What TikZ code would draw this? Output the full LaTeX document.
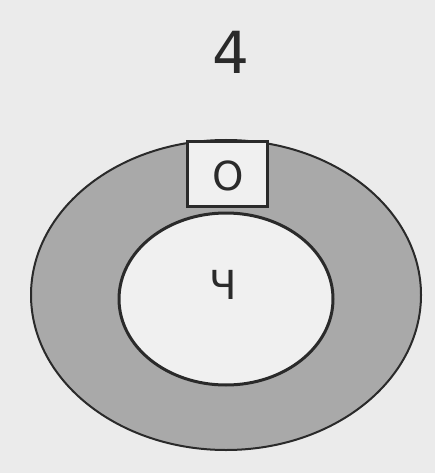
\documentclass[tikz,border=0pt]{standalone}
\usepackage{fontspec}
\setmainfont{DejaVu Sans}
\usetikzlibrary{shapes.geometric}
\definecolor{paper}{HTML}{EBEBEB}
\definecolor{ring}{HTML}{A9A9A9}
\definecolor{hole}{HTML}{F0F0F0}
\definecolor{ink}{HTML}{2A2A2A}
\tikzset{
  ringshape/.style={ellipse, draw=ink, line width=2pt, fill=ring, inner sep=0pt},
  holeshape/.style={ellipse, draw=ink, line width=3pt, fill=hole, inner sep=0pt},
  boxshape/.style={rectangle, draw=ink, line width=3pt, fill=hole, inner sep=0pt},
  lbl/.style={text=ink, inner sep=0pt}
}
\begin{document}
\begin{tikzpicture}[x=1pt,y=-1pt]
\fill[paper] (0,0) rectangle (435,473);
\useasboundingbox (0,0) rectangle (435,473);
\node[ringshape, minimum width=390pt, minimum height=310pt] (outer) at (226,295) {};
\node[boxshape, minimum width=80pt, minimum height=64pt] (box) at (227,174) {};
\node[holeshape, minimum width=214pt, minimum height=172pt] (inner) at (226,299) {};
\node[lbl, font=\fontsize{58}{58}\selectfont] (title) at (231,52) {4};
\node[lbl, font=\fontsize{40}{40}\selectfont] (olbl) at (228,176) {О};
\node[lbl, font=\fontsize{40}{40}\selectfont] (chlbl) at (223,285) {Ч};
\end{tikzpicture}
\end{document}
